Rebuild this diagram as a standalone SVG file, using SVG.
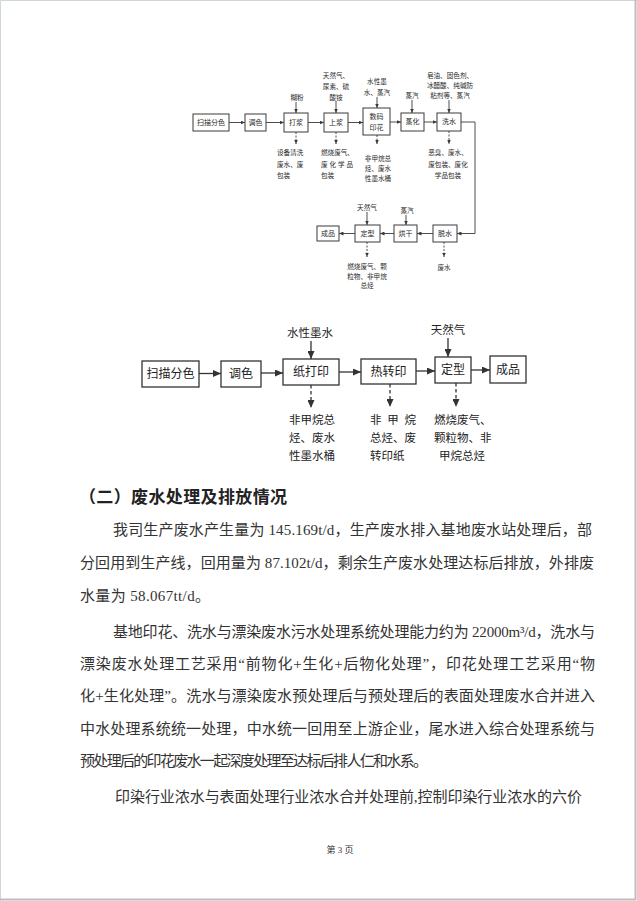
<svg xmlns="http://www.w3.org/2000/svg" width="637" height="901" viewBox="0 0 637 901">
<defs>
<style>
.bg{fill:#fff}
.box{fill:#fff;stroke:#3a3a3a;stroke-width:1}
.box2{fill:#fff;stroke:#333;stroke-width:1.3}
.ln{fill:none;stroke:#3a3a3a;stroke-width:0.9}
.ln2{fill:none;stroke:#333;stroke-width:1.3}
.ds{fill:none;stroke:#3a3a3a;stroke-width:0.9;stroke-dasharray:2 1.5}
.ds2{fill:none;stroke:#333;stroke-width:1.3;stroke-dasharray:3.5 2.5}
.t1{font-family:"Liberation Serif","Noto Sans CJK SC",serif;font-size:6.6px;fill:#2a2a2a;dominant-baseline:central}
.b1{font-family:"Liberation Serif","Noto Sans CJK SC",serif;font-size:7px;fill:#2a2a2a;text-anchor:middle;dominant-baseline:central}
.t2{font-family:"Liberation Serif","Noto Sans CJK SC",serif;font-size:11.5px;fill:#222;dominant-baseline:central}
.b2{font-family:"Liberation Serif","Noto Sans CJK SC",serif;font-size:12px;fill:#222;text-anchor:middle;dominant-baseline:central}
.c{text-anchor:middle}
.body{font-family:"Liberation Serif","Noto Sans CJK SC",serif;font-size:15px;fill:#333;dominant-baseline:central}
.hd{font-family:"Liberation Serif","Noto Sans CJK SC",serif;font-size:17px;font-weight:bold;fill:#222;dominant-baseline:central}
.pg{font-family:"Liberation Serif","Noto Sans CJK SC",serif;font-size:9px;fill:#333;text-anchor:middle;dominant-baseline:central}
</style>
<marker id="a1" markerUnits="userSpaceOnUse" markerWidth="5" markerHeight="4" refX="4.5" refY="2" orient="auto">
<path d="M0,0 L4.5,2 L0,4 Z" fill="#3a3a3a"/>
</marker>
<marker id="a2" markerUnits="userSpaceOnUse" markerWidth="9" markerHeight="7" refX="8" refY="3.5" orient="auto">
<path d="M0,0 L8,3.5 L0,7 Z" fill="#333"/>
</marker>
</defs>
<rect class="bg" x="0" y="0" width="637" height="901"/>
<path d="M0.5,901 V0.5 H637" fill="none" stroke="#cdd6da" stroke-width="1"/>
<path d="M635.5,0 V899.5 H0" fill="none" stroke="#bdbdbd" stroke-width="2"/>

<!-- ===== Top flowchart ===== -->
<g id="connectors-top">
<path class="ln" d="M229,122.5 H245" marker-end="url(#a1)"/>
<path class="ln" d="M266,122.5 H284" marker-end="url(#a1)"/>
<path class="ln" d="M308,122.5 H324" marker-end="url(#a1)"/>
<path class="ln" d="M348,122.5 H363" marker-end="url(#a1)"/>
<path class="ln" d="M390,122 H401" marker-end="url(#a1)"/>
<path class="ln" d="M424,122 H437" marker-end="url(#a1)"/>
<path class="ln" d="M461,122 H475 V233.5 H457" marker-end="url(#a1)"/>
<path class="ln" d="M433,233.5 H417" marker-end="url(#a1)"/>
<path class="ln" d="M394,233.5 H380" marker-end="url(#a1)"/>
<path class="ln" d="M355,233.5 H339" marker-end="url(#a1)"/>
<path class="ln" d="M296,102 V113" marker-end="url(#a1)"/>
<path class="ln" d="M336,101 V113" marker-end="url(#a1)"/>
<path class="ln" d="M377,97 V108" marker-end="url(#a1)"/>
<path class="ln" d="M412,100 V113" marker-end="url(#a1)"/>
<path class="ln" d="M449,100 V113" marker-end="url(#a1)"/>
<path class="ln" d="M367,212 V225" marker-end="url(#a1)"/>
<path class="ln" d="M406,215 V225" marker-end="url(#a1)"/>
<path class="ds" d="M296,132 V144" marker-end="url(#a1)"/>
<path class="ds" d="M336,132 V144" marker-end="url(#a1)"/>
<path class="ds" d="M377,135 V144" marker-end="url(#a1)"/>
<path class="ds" d="M449,131 V144" marker-end="url(#a1)"/>
<path class="ds" d="M367,242 V257" marker-end="url(#a1)"/>
<path class="ds" d="M444,242 V257" marker-end="url(#a1)"/>
</g>

<g id="t-scan"><rect class="box" x="193" y="114" width="36" height="17"/><text class="b1" x="211" y="122.5">扫描分色</text></g>
<g id="t-tiaose"><rect class="box" x="245" y="114" width="21" height="17"/><text class="b1" x="255.5" y="122.5">调色</text></g>
<g id="t-dajiang"><rect class="box" x="284" y="113" width="24" height="19"/><text class="b1" x="296" y="122.5">打浆</text></g>
<g id="t-shangjiang"><rect class="box" x="324" y="113" width="24" height="19"/><text class="b1" x="336" y="122.5">上浆</text></g>
<g id="t-shuma"><rect class="box" x="363" y="108" width="27" height="27"/><text class="b1" x="376.5" y="117">数码</text><text class="b1" x="376.5" y="127.5">印花</text></g>
<g id="t-zhenghua"><rect class="box" x="401" y="113" width="23" height="18"/><text class="b1" x="412.5" y="122">蒸化</text></g>
<g id="t-xishui"><rect class="box" x="437" y="113" width="24" height="18"/><text class="b1" x="449" y="122">洗水</text></g>
<g id="t-tuoshui"><rect class="box" x="433" y="225" width="24" height="17"/><text class="b1" x="445" y="233.5">脱水</text></g>
<g id="t-hong"><rect class="box" x="394" y="225" width="23" height="17"/><text class="b1" x="405.5" y="233.5">烘干</text></g>
<g id="t-dingxing"><rect class="box" x="355" y="225" width="25" height="17"/><text class="b1" x="367.5" y="233.5">定型</text></g>
<g id="t-chengpin"><rect class="box" x="317" y="226" width="22" height="15"/><text class="b1" x="328" y="233.5">成品</text></g>

<g id="t-in-hufen"><text class="t1 c" x="297" y="97">糊粉</text></g>
<g id="t-in-shangjiang"><text class="t1 c" x="336" y="75">天然气、</text><text class="t1 c" x="336" y="86">尿素、硫</text><text class="t1 c" x="336" y="97">酸铵</text></g>
<g id="t-in-shuma"><text class="t1 c" x="377" y="81">水性墨</text><text class="t1 c" x="377" y="92">水、蒸汽</text></g>
<g id="t-in-zhenghua"><text class="t1 c" x="412" y="95">蒸汽</text></g>
<g id="t-in-xishui"><text class="t1 c" x="450" y="75">皂油、固色剂、</text><text class="t1 c" x="450" y="85">冰醋酸、纯碱防</text><text class="t1 c" x="450" y="95">粘剂等、蒸汽</text></g>
<g id="t-in-dingxing"><text class="t1 c" x="367" y="207">天然气</text></g>
<g id="t-in-hong"><text class="t1 c" x="407" y="210">蒸汽</text></g>

<g id="t-out-dajiang"><text class="t1" x="277" y="152">设备清洗</text><text class="t1" x="277" y="164">废水、废</text><text class="t1" x="277" y="175">包装</text></g>
<g id="t-out-shangjiang"><text class="t1" x="321" y="152">燃烧废气、</text><text class="t1" x="321" y="164" textLength="32" lengthAdjust="spacing">废化学品</text><text class="t1" x="321" y="175">包装</text></g>
<g id="t-out-shuma"><text class="t1 c" x="378" y="158">非甲烷总</text><text class="t1 c" x="378" y="168">烃、废水</text><text class="t1 c" x="378" y="178">性墨水桶</text></g>
<g id="t-out-xishui"><text class="t1 c" x="448" y="152">恶臭、废水、</text><text class="t1 c" x="448" y="164">废包装、废化</text><text class="t1 c" x="448" y="175">学品包装</text></g>
<g id="t-out-dingxing"><text class="t1 c" x="367" y="266">燃烧废气、颗</text><text class="t1 c" x="367" y="276">粒物、非甲烷</text><text class="t1 c" x="367" y="285">总烃</text></g>
<g id="t-out-tuoshui"><text class="t1 c" x="444" y="267">废水</text></g>

<!-- ===== Second flowchart ===== -->
<g id="connectors-bottom">
<path class="ln2" d="M199,373.5 H221" marker-end="url(#a2)"/>
<path class="ln2" d="M261,373 H283" marker-end="url(#a2)"/>
<path class="ln2" d="M339,372 H361" marker-end="url(#a2)"/>
<path class="ln2" d="M416,371 H435" marker-end="url(#a2)"/>
<path class="ln2" d="M471,370 H490" marker-end="url(#a2)"/>
<path class="ln2" d="M311,341 V359" marker-end="url(#a2)"/>
<path class="ln2" d="M448,338 V357" marker-end="url(#a2)"/>
<path class="ds2" d="M311,385 V408" marker-end="url(#a2)"/>
<path class="ds2" d="M390,384 V407" marker-end="url(#a2)"/>
<path class="ds2" d="M456,383 V407" marker-end="url(#a2)"/>
</g>

<g id="b-scan"><rect class="box2" x="142" y="361" width="57" height="26"/><text class="b2" x="170.5" y="374">扫描分色</text></g>
<g id="b-tiaose"><rect class="box2" x="221" y="361" width="40" height="26"/><text class="b2" x="241" y="374">调色</text></g>
<g id="b-zhidayin"><rect class="box2" x="283" y="359" width="56" height="26"/><text class="b2" x="311" y="372">纸打印</text></g>
<g id="b-rezhuanyin"><rect class="box2" x="361" y="359" width="55" height="25"/><text class="b2" x="388.5" y="371.5">热转印</text></g>
<g id="b-dingxing"><rect class="box2" x="435" y="357" width="36" height="26"/><text class="b2" x="453" y="370">定型</text></g>
<g id="b-chengpin"><rect class="box2" x="490" y="356" width="36" height="27"/><text class="b2" x="508" y="369.5">成品</text></g>

<g id="b-in-moshui"><text class="t2 c" x="310" y="333">水性墨水</text></g>
<g id="b-in-tianranqi"><text class="t2 c" x="448" y="330">天然气</text></g>

<g id="b-out-zhidayin"><text class="t2" x="289" y="420">非甲烷总</text><text class="t2" x="289" y="438">烃、废水</text><text class="t2" x="289" y="456">性墨水桶</text></g>
<g id="b-out-rezhuanyin"><text class="t2" x="370" y="420" textLength="46" lengthAdjust="spacing">非甲烷</text><text class="t2" x="370" y="438">总烃、废</text><text class="t2" x="370" y="456">转印纸</text></g>
<g id="b-out-dingxing"><text class="t2" x="434" y="420">燃烧废气、</text><text class="t2" x="434" y="438">颗粒物、非</text><text class="t2 c" x="462" y="456">甲烷总烃</text></g>

<!-- ===== Body text ===== -->
<text class="hd" x="79" y="497" textLength="208" lengthAdjust="spacing">（二）废水处理及排放情况</text>

<text class="body" x="113" y="530" textLength="479" lengthAdjust="spacing">我司生产废水产生量为 145.169t/d，生产废水排入基地废水站处理后，部</text>
<text class="body" x="80" y="563" textLength="514" lengthAdjust="spacing">分回用到生产线，回用量为 87.102t/d，剩余生产废水处理达标后排放，外排废</text>
<text class="body" x="80" y="596" textLength="130" lengthAdjust="spacing">水量为 58.067tt/d。</text>

<text class="body" x="113" y="632" textLength="482" lengthAdjust="spacing">基地印花、洗水与漂染废水污水处理系统处理能力约为 22000m³/d，洗水与</text>
<text class="body" x="80" y="664" textLength="515" lengthAdjust="spacing">漂染废水处理工艺采用“前物化+生化+后物化处理”，印花处理工艺采用“物</text>
<text class="body" x="80" y="696" textLength="515" lengthAdjust="spacing">化+生化处理”。洗水与漂染废水预处理后与预处理后的表面处理废水合并进入</text>
<text class="body" x="80" y="729" textLength="515" lengthAdjust="spacing">中水处理系统统一处理，中水统一回用至上游企业，尾水进入综合处理系统与</text>
<text class="body" x="80" y="761" textLength="348" lengthAdjust="spacing">预处理后的印花废水一起深度处理至达标后排人仁和水系。</text>

<text class="body" x="115" y="797" textLength="467" lengthAdjust="spacing">印染行业浓水与表面处理行业浓水合并处理前,控制印染行业浓水的六价</text>

<text class="pg" x="340" y="850">第 3 页</text>
</svg>
